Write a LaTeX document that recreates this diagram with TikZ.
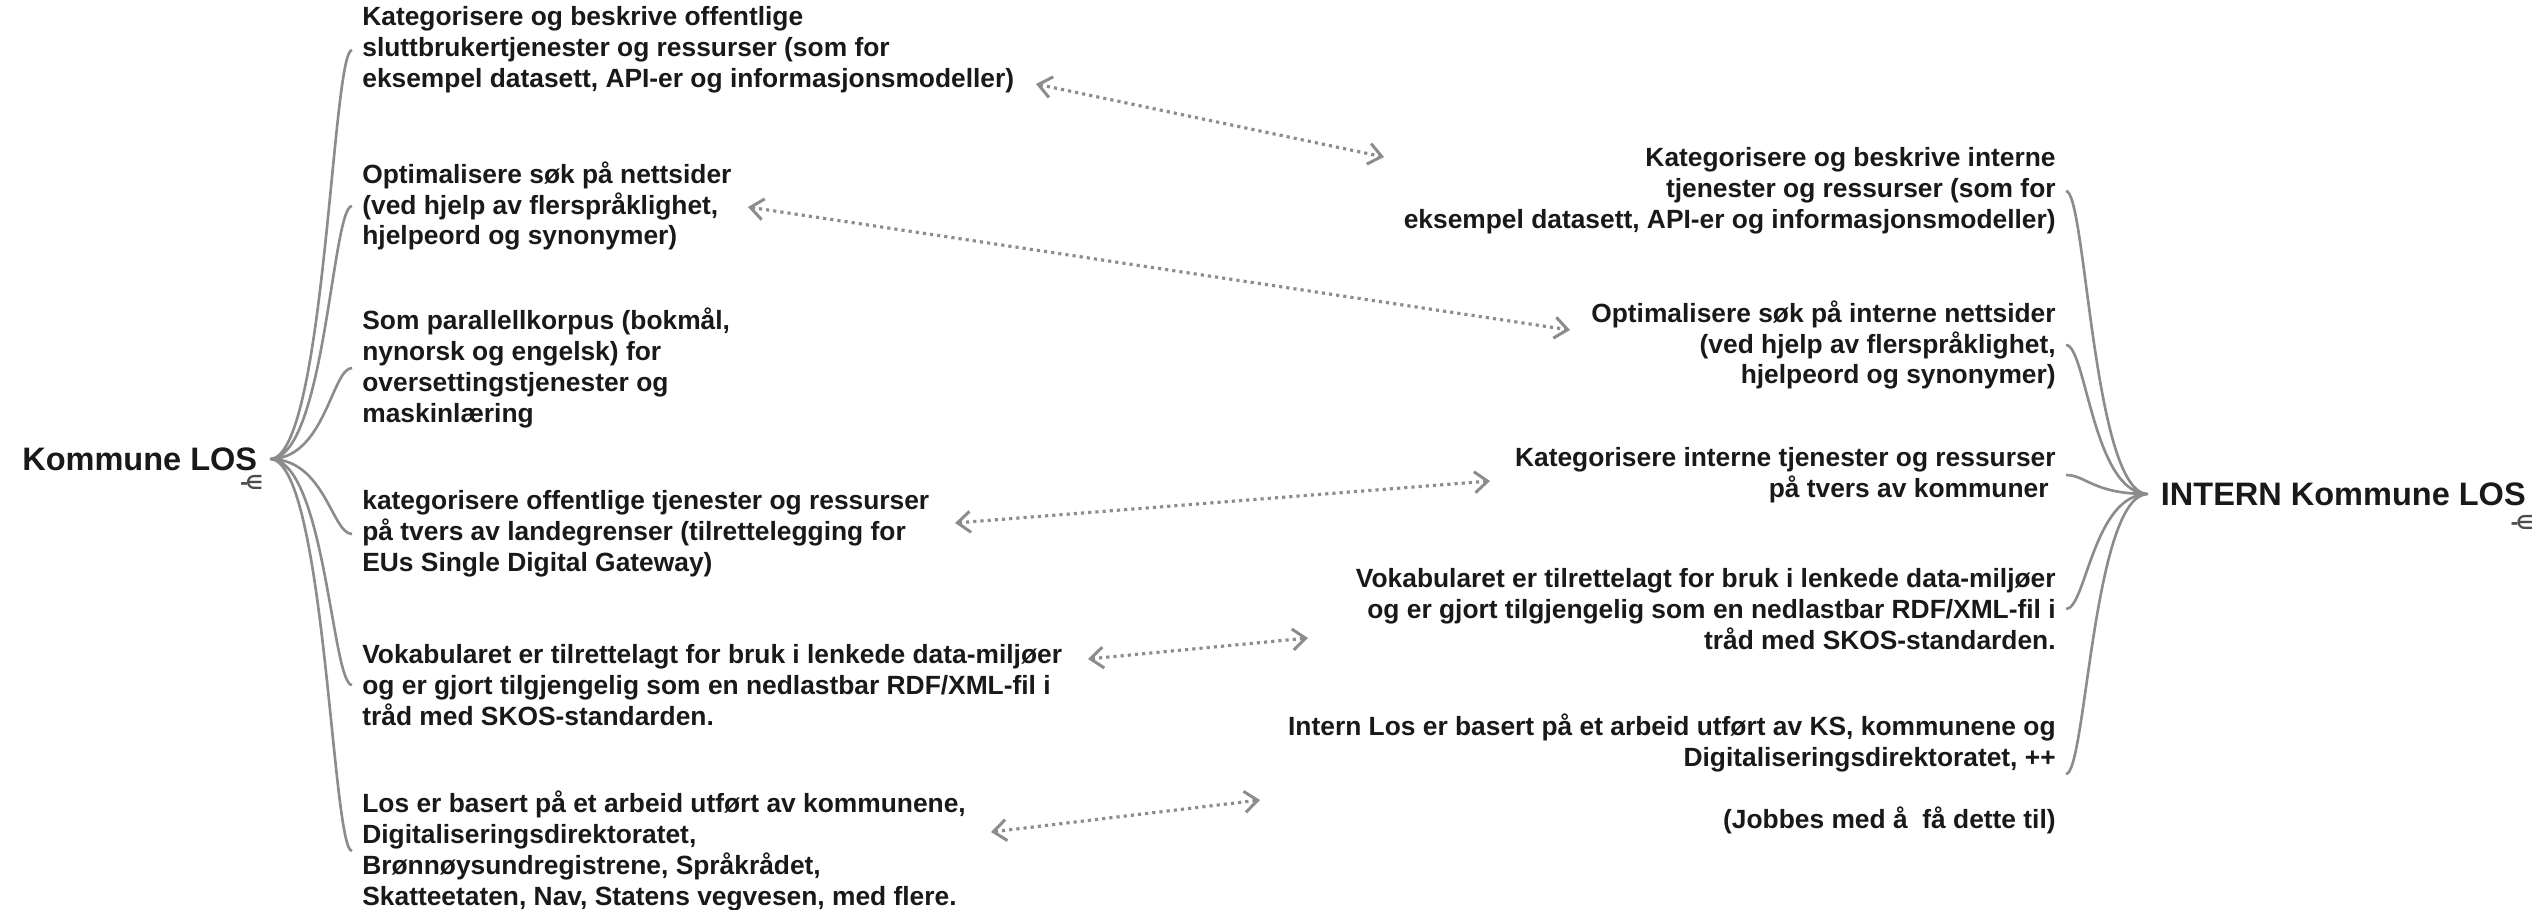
\documentclass[tikz,border=0pt]{standalone}
\usepackage{fontspec}
\setmainfont{Liberation Sans}
\newfontfamily\tagfont{DejaVu Sans}
\colorlet{linegray}{black!45}
\colorlet{inkblack}{black!90}
\usetikzlibrary{arrows.meta,positioning}
\tikzstyle{hub}=[font=\bfseries\fontsize{18.5}{22}\selectfont,text=inkblack,
inner xsep=.25cm,inner ysep=0pt]
\tikzstyle{leaf}=[font=\bfseries\fontsize{15}{17.6}\selectfont,text=inkblack,
inner xsep=.2cm,inner ysep=0pt]
\tikzstyle{leafl}=[leaf,anchor=west,align=left]
\tikzstyle{leafr}=[leaf,anchor=east,align=right]
\tikzstyle{tag}=[font=\tagfont\bfseries\fontsize{11}{12}\selectfont,text=black!70,inner sep=0pt]
\tikzstyle{branch}=[draw=linegray,line width=1.5pt]
\tikzstyle{link}=[draw=linegray,line width=1.8pt,dash pattern=on 1.8pt off 2.3pt,
{Straight Barb[length=.26cm,width=.42cm,line width=1.7pt]}-{Straight Barb[length=.26cm,width=.42cm,line width=1.7pt]}]

\begin{document}
\begin{tikzpicture}
  \useasboundingbox (0,0) rectangle (50.78,-18.18);

  % the two roots
  \node[hub, anchor=east] (kl) at (5.40,-9.18) {Kommune LOS};
  \node[tag] (kltag) at (5.03,-9.65) {-\kern-1.5pt∈};
  \node[hub, anchor=west] (il) at (42.96,-9.88) {INTERN Kommune LOS};
  \node[tag] (iltag) at (50.44,-10.44) {-\kern-1.5pt∈};

  % left side
  \node[leafl] (l1) at (7.04,-1.00) {Kategorisere og beskrive offentlige\\
    sluttbrukertjenester og ressurser (som for\\
    eksempel datasett, API-er og informasjonsmodeller)};
  \node[leafl] (l2) at (7.04,-4.12) {Optimalisere søk på nettsider\\
    (ved hjelp av flerspråklighet,\\ hjelpeord og synonymer)};
  \node[leafl] (l3) at (7.04,-7.36) {Som parallellkorpus (bokmål,\\
    nynorsk og engelsk) for\\ oversettingstjenester og\\ maskinlæring};
  \node[leafl] (l4) at (7.04,-10.68) {kategorisere offentlige tjenester og ressurser\\
    på tvers av landegrenser (tilrettelegging for\\ EUs Single Digital Gateway)};
  \node[leafl] (l5) at (7.04,-13.70) {Vokabularet er tilrettelagt for bruk i lenkede data-miljøer\\
    og er gjort tilgjengelig som en nedlastbar RDF/XML-fil i\\ tråd med SKOS-standarden.};
  \node[leafl] (l6) at (7.04,-17.02) {Los er basert på et arbeid utført av kommunene,\\
    Digitaliseringsdirektoratet,\\ Brønnøysundregistrene, Språkrådet,\\
    Skatteetaten, Nav, Statens vegvesen, med flere.};

  % right side
  \node[leafr] (r1) at (41.32,-3.82) {Kategorisere og beskrive interne\\
    tjenester og ressurser (som for\\
    eksempel datasett, API-er og informasjonsmodeller)};
  \node[leafr] (r2) at (41.32,-6.90) {Optimalisere søk på interne nettsider\\
    (ved hjelp av flerspråklighet,\\ hjelpeord og synonymer)};
  \node[leafr] (r3) at (41.32,-9.50) {Kategorisere interne tjenester og ressurser\\
    på tvers av kommuner\hspace*{4pt}};
  \node[leafr] (r4) at (41.32,-12.18) {Vokabularet er tilrettelagt for bruk i lenkede data-miljøer\\
    og er gjort tilgjengelig som en nedlastbar RDF/XML-fil i\\ tråd med SKOS-standarden.};
  \node[leafr] (r5) at (41.32,-15.48) {Intern Los er basert på et arbeid utført av KS, kommunene og\\
    Digitaliseringsdirektoratet, ++\\[17.6pt] (Jobbes med å\ \ få dette til)};

  % ends of the dotted links
  \coordinate (a1) at (20.72,-1.68);  \coordinate (b1) at (27.68,-3.14);
  \coordinate (a2) at (14.96,-4.14);  \coordinate (b2) at (31.40,-6.60);
  \coordinate (a3) at (19.10,-10.46); \coordinate (b3) at (29.80,-9.62);
  \coordinate (a4) at (21.76,-13.18); \coordinate (b4) at (26.16,-12.76);
  \coordinate (a5) at (19.82,-16.64); \coordinate (b5) at (25.20,-16.00);

  \draw[branch] (kl.east) .. controls +(1.1,0) and +(-.4,0) .. (l1.west)
    (kl.east) .. controls +(1.1,0) and +(-.4,0) .. (l2.west)
    (kl.east) .. controls +(1.1,0) and +(-.4,0) .. (l3.west)
    (kl.east) .. controls +(1.1,0) and +(-.4,0) .. (l4.west)
    (kl.east) .. controls +(1.1,0) and +(-.4,0) .. (l5.west)
    (kl.east) .. controls +(1.1,0) and +(-.4,0) .. (l6.west);
  \draw[branch] (r1.east) .. controls +(.4,0) and +(-1.1,0) .. (il.west)
    (r2.east) .. controls +(.4,0) and +(-1.1,0) .. (il.west)
    (r3.east) .. controls +(.4,0) and +(-1.1,0) .. (il.west)
    (r4.east) .. controls +(.4,0) and +(-1.1,0) .. (il.west)
    (r5.east) .. controls +(.4,0) and +(-1.1,0) .. (il.west);

  \draw[link] (a1) -- (b1);
  \draw[link] (a2) -- (b2);
  \draw[link] (a3) -- (b3);
  \draw[link] (a4) -- (b4);
  \draw[link] (a5) -- (b5);
\end{tikzpicture}
\end{document}
